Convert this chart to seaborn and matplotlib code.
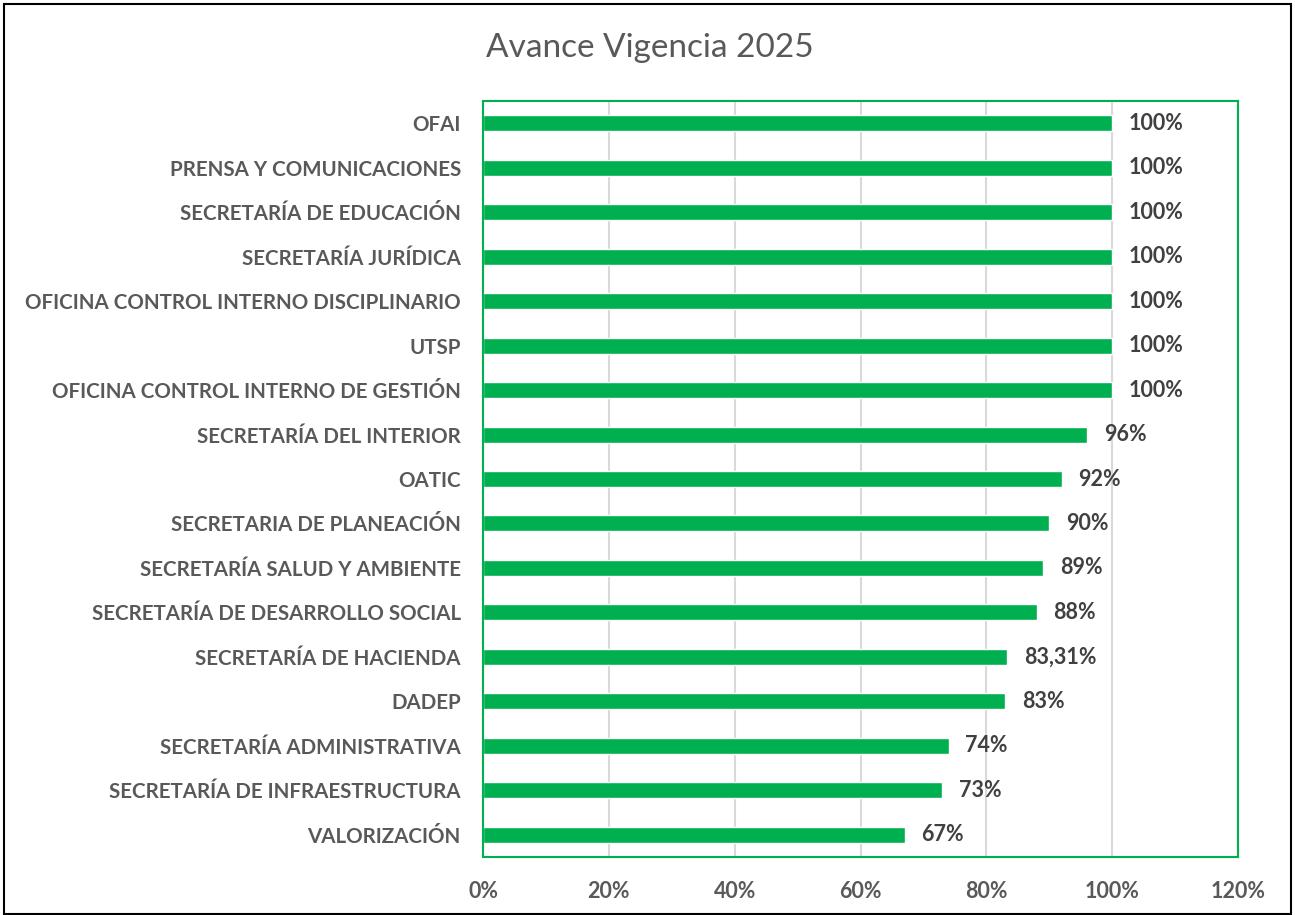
import seaborn as sns
import matplotlib.pyplot as plt
import matplotlib.patches as patches
import pandas as pd

# data
categories = [
    'OFAI', 'PRENSA Y COMUNICACIONES', 'SECRETARÍA DE EDUCACIÓN',
    'SECRETARÍA JURÍDICA', 'OFICINA CONTROL INTERNO DISCIPLINARIO', 'UTSP',
    'OFICINA CONTROL INTERNO DE GESTIÓN', 'SECRETARÍA DEL INTERIOR', 'OATIC',
    'SECRETARIA DE PLANEACIÓN', 'SECRETARÍA SALUD Y AMBIENTE',
    'SECRETARÍA DE DESARROLLO SOCIAL', 'SECRETARÍA DE HACIENDA', 'DADEP',
    'SECRETARÍA ADMINISTRATIVA', 'SECRETARÍA DE INFRAESTRUCTURA', 'VALORIZACIÓN',
]
values = [100, 100, 100, 100, 100, 100, 100, 96, 92, 90, 89, 88, 83.31, 83, 74, 73, 67]
value_labels = ['100%', '100%', '100%', '100%', '100%', '100%', '100%', '96%', '92%',
                '90%', '89%', '88%', '83,31%', '83%', '74%', '73%', '67%']
tick_labels = ['0%', '20%', '40%', '60%', '80%', '100%', '120%']

df = pd.DataFrame({'area': categories, 'avance': values})

sns.set_theme(style='white')
plt.rcParams['font.family'] = ['Lato', 'DejaVu Sans']

green = '#00B050'
fig = plt.figure(figsize=(12.95, 9.15), dpi=100)
ax = fig.add_axes([0.373, 0.0634, 0.583, 0.8262])

sns.barplot(data=df, x='avance', y='area', orient='h', color=green,
            width=0.36, saturation=1, ax=ax)

ax.bar_label(ax.containers[0], labels=value_labels, padding=12,
             fontsize=15.5, fontweight='bold', color='#404040')

ax.set_xlim(0, 120)
ax.set_ylim(16.5, -0.5)
ax.set_xticks(range(0, 121, 20))
ax.set_xticklabels(tick_labels)
ax.xaxis.grid(True, color='#D9D9D9', linewidth=1.5)
ax.set_axisbelow(True)
ax.set_xlabel('')
ax.set_ylabel('')
ax.tick_params(axis='both', length=0, colors='#595959')
ax.tick_params(axis='x', pad=17, labelsize=15.5)
ax.tick_params(axis='y', pad=16, labelsize=14.8)
for lbl in ax.get_xticklabels() + ax.get_yticklabels():
    lbl.set_fontweight('bold')

for s in ax.spines.values():
    s.set_visible(True)
    s.set_color(green)
    s.set_linewidth(1.5)

fig.text(0.502, 0.947, 'Avance Vigencia 2025', ha='center', va='center',
         fontsize=24, color='#595959')

# outer chart border
fig.patches.append(patches.Rectangle((0.003, 0.001), 0.994, 0.995,
                                     transform=fig.transFigure, fill=False,
                                     edgecolor='black', linewidth=1.5))

fig.savefig('out.png', dpi=100)
